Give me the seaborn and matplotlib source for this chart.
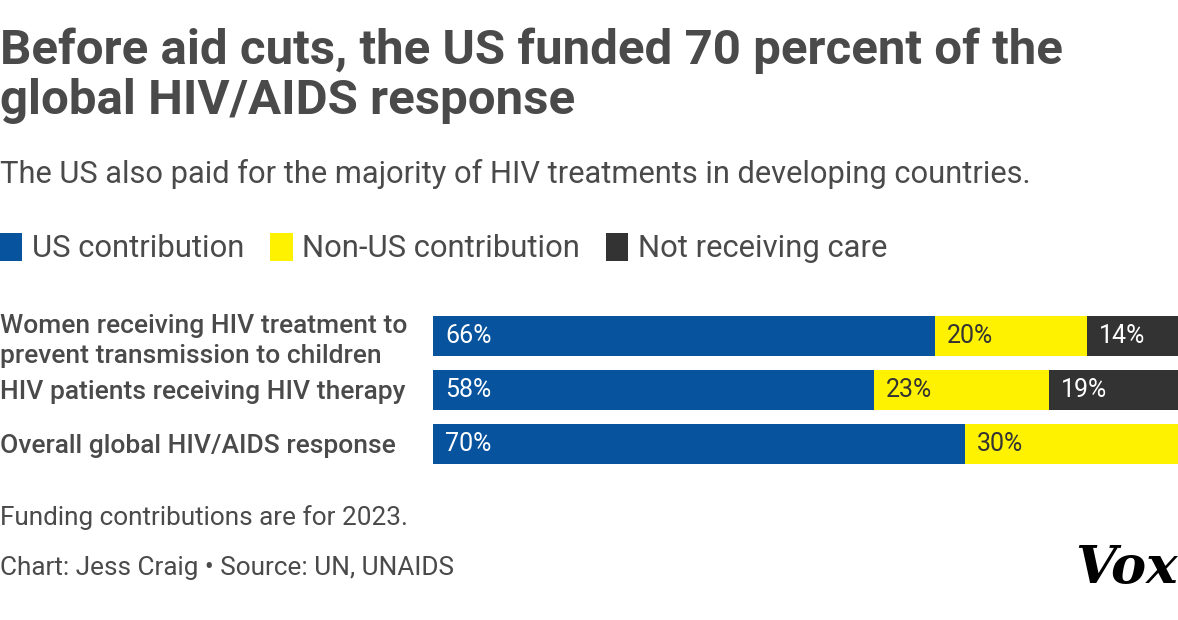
import numpy as np
import pandas as pd
import seaborn as sns
import matplotlib.pyplot as plt
from matplotlib.patches import Patch

# datos
categories = ["Women receiving HIV treatment to\nprevent transmission to children",
              "HIV patients receiving HIV therapy",
              "Overall global HIV/AIDS response"]
us = [66, 58, 70]
non_us = [20, 23, 30]
not_care = [14, 19, 0]
series_names = ["US contribution", "Non-US contribution", "Not receiving care"]

blue = "#07539e"
yellow = "#fff200"
dark = "#333333"
txt = "#4a4a4a"

sns.set_theme(style="white")
plt.rcParams['font.family'] = ['Roboto', 'DejaVu Sans']

df = pd.DataFrame({"cat": categories, "us": us, "non_us": non_us, "not_care": not_care})
df["c1"] = df["us"]
df["c2"] = df["us"] + df["non_us"]
df["c3"] = df["c2"] + df["not_care"]

fig = plt.figure(figsize=(11.78, 6.2), dpi=100)
ax = fig.add_axes([433/1178, 1 - 471/620, 760/1178, 162/620])

# barras apiladas: total primero, luego encima
sns.barplot(data=df, x="c3", y="cat", color=dark, width=0.74, ax=ax, saturation=1)
sns.barplot(data=df, x="c2", y="cat", color=yellow, width=0.74, ax=ax, saturation=1)
sns.barplot(data=df, x="c1", y="cat", color=blue, width=0.74, ax=ax, saturation=1)
for p in ax.patches:
    p.set_linewidth(0)

ax.set_xlim(0, 100)
ax.set_xlabel("")
ax.set_ylabel("")
ax.set_xticks([])
for s in ax.spines.values():
    s.set_visible(False)

# etiquetas de categorias alineadas a la izquierda del figure
ax.tick_params(axis='y', length=0, pad=433 * 72 / 100)
for lbl in ax.get_yticklabels():
    lbl.set_horizontalalignment('left')
    lbl.set_fontsize(19)
    lbl.set_fontweight('medium')
    lbl.set_color(txt)
    lbl.set_linespacing(1.28)

# etiquetas de valores
for i in range(len(categories)):
    lefts = [0, us[i], us[i] + non_us[i]]
    vals = [us[i], non_us[i], not_care[i]]
    cols = ["white", dark, "white"]
    for left, v, c in zip(lefts, vals, cols):
        if v > 0:
            ax.text(left + 1.6, i, f"{v}%", ha='left', va='center',
                    fontsize=18, fontweight='normal', color=c)

# titulos
fig.text(0, 1 - 76/620, "Before aid cuts, the US funded 70 percent of the\nglobal HIV/AIDS response",
         ha='left', va='center', fontsize=35.5, fontweight='bold', color=txt, linespacing=1.12)
fig.text(0, 1 - 174/620, "The US also paid for the majority of HIV treatments in developing countries.",
         ha='left', va='center', fontsize=22.2, fontweight='normal', color=txt)

handles = [Patch(facecolor=c, edgecolor='none') for c in [blue, yellow, dark]]
fig.legend(handles, series_names, loc='upper left', bbox_to_anchor=(0, 1 - 233/620),
           ncol=3, frameon=False, handlelength=0.72, handleheight=1.0,
           handletextpad=0.3, columnspacing=0.85, borderpad=0, borderaxespad=0,
           labelcolor=txt, prop={'weight': 'normal', 'size': 22.3})

fig.text(0, 1 - 518/620, "Funding contributions are for 2023.", ha='left', va='center',
         fontsize=18.8, fontweight='normal', color=txt)
fig.text(0, 1 - 568/620, "Chart: Jess Craig \u2022 Source: UN, UNAIDS", ha='left', va='center',
         fontsize=18.8, fontweight='normal', color=txt)
fig.text(1.0, 1 - 568/620, "Vox", ha='right', va='center', fontsize=38,
         fontweight='bold', fontstyle='italic', family='DejaVu Serif', color='black')

fig.savefig("out.png", dpi=100)
